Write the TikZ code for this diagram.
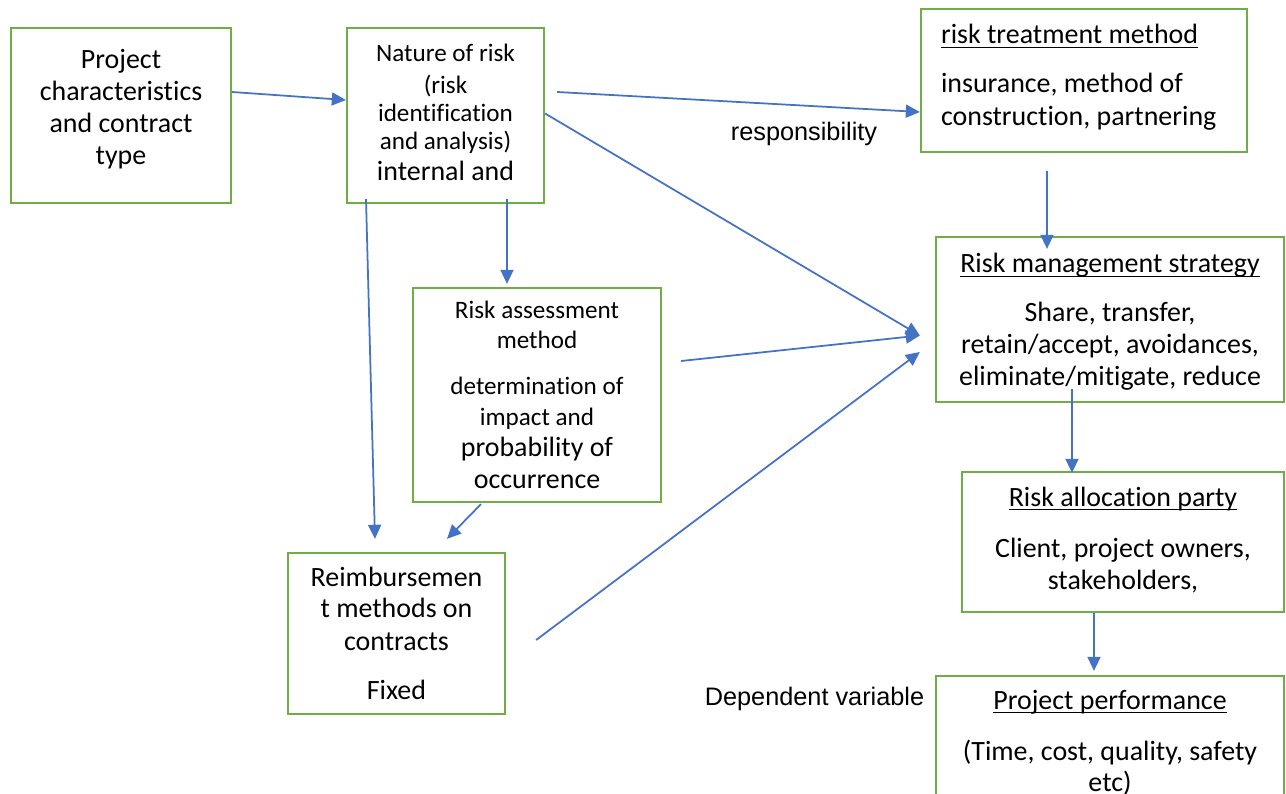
\documentclass[tikz,border=0pt]{standalone}
\usepackage{fontspec}
\setmainfont{Carlito}[Ligatures=NoCommon]
\newfontfamily\arialfont{Liberation Sans}
\usetikzlibrary{arrows.meta, positioning}
\definecolor{boxgreen}{RGB}{112, 173, 71}
\definecolor{flowblue}{RGB}{68, 114, 196}
\newcommand{\sm}{\fontsize{14.3}{16.6}\selectfont}
\newsavebox{\ulsave}
\newcommand{\ulbox}[1]{\sbox{\ulsave}{#1}\rlap{\rule[-2.4pt]{\wd\ulsave}{0.8pt}}\usebox{\ulsave}}

\begin{document}
\begin{tikzpicture}[x=0.02cm, y=-0.02cm,
  box/.style={draw=boxgreen, line width=1.3pt, align=center, inner sep=0pt,
    font=\fontsize{15.9}{18.2}\selectfont},
  flow/.style={draw=flowblue, line width=1pt, -{Triangle[length=8pt, width=7.4pt]}},
  note/.style={font=\arialfont\fontsize{14.4}{17}\selectfont}]
  \clip (0,0) rectangle (1286,794);

  % ===== left: inputs =====
  \node[box, minimum width=4.4cm, minimum height=3.5cm, text depth=10.2pt] (proj) at (121,115.5)
    {Project\\characteristics\\and contract\\type};
  \node[box, minimum width=3.94cm, minimum height=3.5cm, text depth=4pt] (nature) at (445.5,115.5)
    {{\sm Nature of risk}\\{\sm (risk}\\[-2.3pt]{\sm identification}\\[-2.3pt]{\sm and analysis)}\\[-0.6pt]internal and};
  \node[box, minimum width=4.96cm, minimum height=4.28cm, text depth=-2.8pt] (assess) at (537,395)
    {{\sm Risk assessment}\\[-1.1pt]{\sm method}\\[8pt]{\sm determination of}\\[-0.6pt]{\sm impact and}\\[-0.6pt]probability of\\occurrence};
  \node[box, minimum width=4.34cm, minimum height=3.22cm, text depth=-6.2pt] (reimb) at (396.5,633.5)
    {Reimbursemen\\[-0.6pt]t methods on\\[0.6pt]contracts\\[9.7pt]Fixed};

  % ===== right: strategy chain =====
  \node[box, align=flush left, text width=5.72cm, inner xsep=0.4cm, minimum height=2.86cm, text depth=52.9pt] (treat) at (1084,80.5)
    {\ulbox{risk treatment method}\\[9.7pt]insurance, method of\\[0.6pt]construction, partnering};
  \node[box, minimum width=6.96cm, minimum height=3.3cm, text depth=0pt] (strategy) at (1110,319.5)
    {\ulbox{Risk management strategy}\\[9.7pt]Share, transfer,\\retain/accept, avoidances,\\eliminate/mitigate, reduce};
  \node[box, minimum width=6.44cm, minimum height=2.8cm, text depth=4.6pt] (alloc) at (1123,542)
    {\ulbox{Risk allocation party}\\[10.8pt]Client, project owners,\\stakeholders,};
  \node[box, minimum width=6.96cm, minimum height=2.8cm, text depth=6.2pt] (perf) at (1110,746)
    {\ulbox{Project performance}\\[10.8pt](Time, cost, quality, safety\\[-0.6pt]etc)};

  % labels
  \node[note] (resp) at (804,134) {responsibility};
  \node[note] (depvar) at (814.5,699) {Dependent variable};

  % ===== arrows =====
  \coordinate (merge) at ([shift={(-15,16)}]strategy.west);
  \draw[flow] ([shift={(0,-23.5)}]proj.east) -- ([shift={(0,-15.5)}]nature.west);
  \draw[flow] ([shift={(12,-23.5)}]nature.east) -- ([shift={(0,31.5)}]treat.west);
  \draw[flow] ([shift={(0,-2)}]nature.east) -- (merge);
  \draw[flow] ([shift={(61.5,-5)}]nature.south) -- ([shift={(-30,-3)}]assess.north);
  \draw[flow] ([shift={(-79.5,-5)}]nature.south) -- ([shift={(-21.5,-13)}]reimb.north);
  \draw[flow] ([shift={(19,-34)}]assess.east) -- (merge);
  \draw[flow] ([shift={(-56,1)}]assess.south) -- ([shift={(50.5,-13)}]reimb.north);
  \draw[flow] ([shift={(30,6.5)}]reimb.east) -- ([shift={(-15,32.5)}]strategy.west);
  \draw[flow] ([shift={(-37,18)}]treat.south) -- ([shift={(-63,13)}]strategy.north);
  \draw[flow] ([shift={(-38,-14)}]strategy.south) -- ([shift={(-51,2)}]alloc.north);
  \draw[flow] ([shift={(-29,0)}]alloc.south) -- ([shift={(-16,-4)}]perf.north);
\end{tikzpicture}
\end{document}
